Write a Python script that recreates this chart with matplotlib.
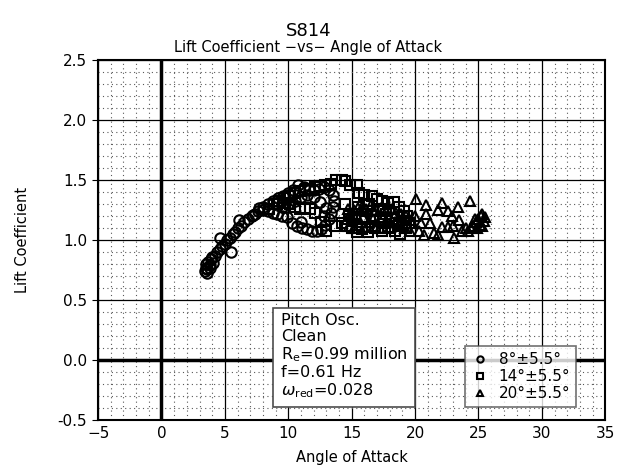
import matplotlib.pyplot as plt
from matplotlib.ticker import MultipleLocator

# 8 deg +/- 5.5 deg (circles)
c_alpha = [3.4, 3.5, 3.5, 3.6, 3.7, 3.8, 3.9, 4.0, 4.2, 4.4, 4.6, 4.6, 4.8, 5.0, 5.2, 5.4, 5.5,
           5.6, 5.8, 6.0, 6.1, 6.3, 6.5, 6.8, 7.1, 7.4, 7.7, 8.0, 8.4, 8.8, 9.2, 9.6, 10.0,
           10.4, 10.8, 11.2, 11.6, 12.0, 12.4, 12.8, 13.2, 13.5,
           13.6, 13.5, 13.4, 13.2, 12.9, 12.6, 12.3, 11.9, 11.5, 11.1, 10.7, 10.3, 9.9, 9.5,
           9.1, 8.8, 8.4, 8.0, 7.6, 7.2,
           10.0, 10.5, 11.0, 11.5, 12.0, 12.5, 9.5, 13.0, 12.8, 11.0, 3.6, 3.8, 4.1]
c_cl = [0.74, 0.77, 0.80, 0.76, 0.82, 0.79, 0.84, 0.86, 0.87, 0.90, 0.93, 1.02, 0.95, 0.97, 1.00, 1.02, 0.90,
        1.05, 1.07, 1.10, 1.17, 1.12, 1.15, 1.18, 1.20, 1.22, 1.27, 1.28, 1.30, 1.33, 1.35, 1.37, 1.39,
        1.42, 1.46, 1.44, 1.42, 1.42, 1.43, 1.44, 1.42, 1.38,
        1.33, 1.28, 1.23, 1.18, 1.13, 1.09, 1.08, 1.08, 1.09, 1.10, 1.12, 1.14, 1.19, 1.20,
        1.22, 1.23, 1.24, 1.25, 1.24, 1.21,
        1.30, 1.33, 1.36, 1.38, 1.36, 1.32, 1.28, 1.27, 1.20, 1.15, 0.73, 0.77, 0.81]

# 14 deg +/- 5.5 deg (squares)
s_alpha = [8.5, 8.9, 9.3, 9.7, 10.1, 10.5, 10.9, 11.3, 11.7, 12.1, 12.5, 12.9, 13.4, 13.8, 14.2,
           14.5, 14.9, 15.4, 15.6, 16.0, 16.6, 17.0, 17.4, 17.9, 18.3, 18.7, 19.1, 19.4,
           19.5, 19.3, 18.8, 18.4, 17.9, 17.4, 16.8, 16.3, 15.8, 15.4, 15.0, 14.6, 14.2, 13.7,
           13.0, 12.6, 12.1, 11.7, 11.3, 10.9, 10.5, 10.1, 9.6, 9.1,
           14.8, 15.3, 15.8, 16.2, 16.7, 17.2, 17.7, 18.2, 18.7, 15.5, 16.4, 17.5, 14.5, 19.0]
s_cl = [1.26, 1.30, 1.33, 1.35, 1.37, 1.39, 1.41, 1.42, 1.43, 1.44, 1.45, 1.46, 1.47, 1.50, 1.50,
        1.49, 1.46, 1.46, 1.39, 1.38, 1.37, 1.34, 1.33, 1.31, 1.32, 1.28, 1.24, 1.20,
        1.14, 1.10, 1.05, 1.08, 1.10, 1.08, 1.10, 1.07, 1.09, 1.07, 1.10, 1.12, 1.14, 1.12,
        1.08, 1.15, 1.23, 1.26, 1.27, 1.26, 1.28, 1.30, 1.31, 1.30,
        1.20, 1.22, 1.18, 1.24, 1.20, 1.16, 1.22, 1.18, 1.14, 1.28, 1.30, 1.26, 1.30, 1.12]

# 20 deg +/- 5.5 deg (triangles)
t_alpha = [14.6, 14.9, 15.2, 15.5, 15.8, 16.1, 16.5, 16.9, 17.3, 17.7, 18.1, 18.5, 18.9, 19.3, 19.7,
           14.8, 15.2, 15.6, 16.0, 16.4, 16.8, 17.2, 17.6, 18.0, 18.4, 18.8, 19.2, 19.6,
           15.0, 15.9, 16.7, 17.5, 18.3, 19.0, 14.7, 15.4,
           20.1, 20.9, 22.1, 23.4, 24.3, 20.9, 21.8, 22.6, 21.2, 22.1, 22.6, 20.7, 21.8, 23.1,
           23.7, 23.5, 20.5, 20.3, 21.5, 22.9, 20.0, 23.0, 24.0,
           24.2, 24.4, 24.6, 24.8, 25.0, 25.2, 25.3, 25.4, 25.1, 24.7, 25.5, 24.9, 25.3]
t_cl = [1.18, 1.22, 1.25, 1.27, 1.28, 1.26, 1.29, 1.25, 1.27, 1.24, 1.26, 1.23, 1.22, 1.20, 1.17,
        1.12, 1.10, 1.13, 1.11, 1.15, 1.12, 1.10, 1.14, 1.11, 1.15, 1.12, 1.10, 1.08,
        1.16, 1.19, 1.18, 1.19, 1.20, 1.17, 1.26, 1.20,
        1.34, 1.29, 1.31, 1.28, 1.33, 1.22, 1.25, 1.24, 1.14, 1.11, 1.11, 1.04, 1.04, 1.02,
        1.08, 1.17, 1.14, 1.08, 1.06, 1.20, 1.20, 1.12, 1.10,
        1.08, 1.10, 1.12, 1.15, 1.18, 1.20, 1.22, 1.16, 1.13, 1.18, 1.19, 1.10, 1.12]

labels = ['8°±5.5°', '14°±5.5°', '20°±5.5°']
info = ['Pitch Osc.', 'Clean', r'R$_\mathrm{e}$=0.99 million', 'f=0.61 Hz',
        r'$\omega_\mathrm{red}$=0.028']

fig = plt.figure(figsize=(6.17, 4.70), dpi=100)
ax = fig.add_axes([0.159, 0.106, 0.822, 0.766])

ax.set_xlim(-5, 35)
ax.set_ylim(-0.5, 2.5)
ax.xaxis.set_major_locator(MultipleLocator(5))
ax.xaxis.set_minor_locator(MultipleLocator(1))
ax.yaxis.set_major_locator(MultipleLocator(0.5))
ax.yaxis.set_minor_locator(MultipleLocator(0.1))
ax.grid(which='minor', color='0.35', linestyle=(0, (1, 3)), linewidth=0.8)
ax.grid(which='major', color='black', linestyle='-', linewidth=0.9)
ax.set_axisbelow(True)
ax.axvline(0, color='black', linewidth=2.5, zorder=1)
ax.axhline(0, color='black', linewidth=2.5, zorder=1)
for sp in ax.spines.values():
    sp.set_linewidth(1.5)
ax.tick_params(which='both', length=0, labelsize=11, pad=4)
ax.tick_params(axis='y', which='major', length=4, direction='out')
ax.set_yticklabels(['%.1f' % v for v in ax.get_yticks()])

mk = dict(linestyle='none', markerfacecolor='none', markeredgecolor='black',
          markeredgewidth=1.5, markersize=7.5)
ax.plot(c_alpha, c_cl, marker='o', label=labels[0], **mk)
ax.plot(s_alpha, s_cl, marker='s', label=labels[1], **mk)
ax.plot(t_alpha, t_cl, marker='^', label=labels[2], **mk)

leg = ax.legend(loc='lower right', bbox_to_anchor=(0.943, 0.036), fontsize=11,
                markerscale=0.6, frameon=True, fancybox=False, edgecolor='0.3',
                handletextpad=0.6, borderpad=0.4, labelspacing=0.12, handlelength=1.2,
                borderaxespad=0)
leg.get_frame().set_linewidth(1.2)

ax.text(9.4, 0.39, '\n'.join(info), fontsize=11.5, ha='left', va='top', linespacing=1.08,
        bbox=dict(boxstyle='square,pad=0.45', facecolor='white', edgecolor='0.3', linewidth=1.2))

ax.set_xlabel('Angle of Attack', fontsize=10.5, labelpad=7)
ax.set_ylabel('Lift Coefficient', fontsize=10.5, labelpad=20)
fig.text(0.5, 0.924, 'S814', ha='center', fontsize=13)
fig.text(0.5, 0.89, 'Lift Coefficient \u2212vs\u2212 Angle of Attack', ha='center', fontsize=10.5)

fig.savefig('out.png', dpi=100)
